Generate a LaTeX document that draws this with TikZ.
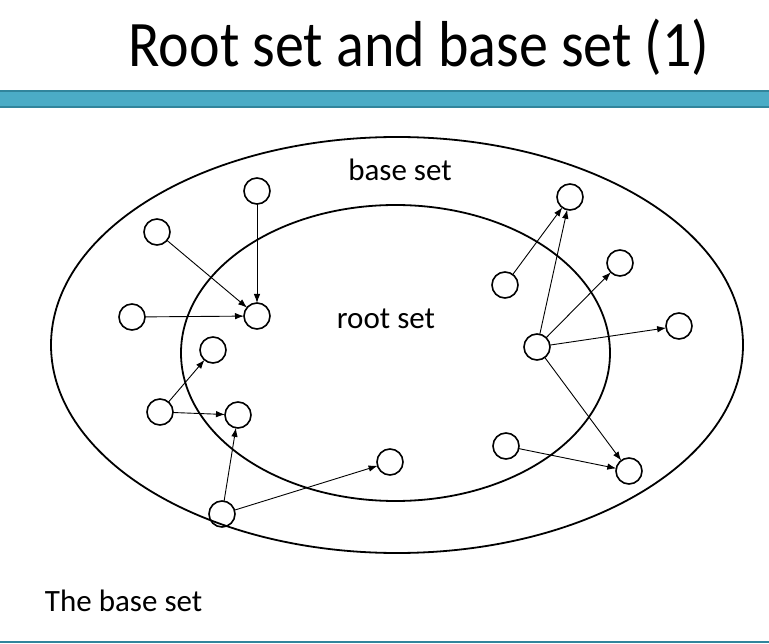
\documentclass[tikz,border=0pt]{standalone}
\usepackage{fontspec}
\setmainfont{Carlito}
\usetikzlibrary{arrows.meta}

\definecolor{barblue}{HTML}{4BACC6}
\definecolor{bardark}{HTML}{31859C}

\tikzset{
	    every node/.style={
					inner sep=0pt,
					outer sep=0pt
	    },
	    page/.style={
					circle,
					draw=black,
					line width=1.6pt,
					minimum size=26pt
	    },
	    link/.style={
					-{Latex[length=9pt,width=6.5pt]},
					line width=0.9pt
	    },
	    setline/.style={
					line width=1.8pt
	    },
	    label text/.style={
					font=\fontsize{31}{36}\selectfont
	    }
		}

\begin{document}
\begin{tikzpicture}[x=1pt, y=-1pt]
			\useasboundingbox (0,0) rectangle (769,644);

			% title and bars
			\node[font=\fontsize{58}{64}\selectfont, anchor=base] (title) at (419,67) {\scalebox{1}[1.12]{Root set and base set (1)}};
			\fill[barblue] (0,91) rectangle (769,107);
			\draw[bardark, line width=1.6pt] (0,91) -- (769,91);
			\draw[bardark, line width=1.6pt] (0,107) -- (769,107);
			\draw[bardark, line width=2pt] (0,642) -- (769,642);

			% the two sets
			\draw[setline] (397,345) ellipse [x radius=346, y radius=208];
			\draw[setline] (395.5,353) ellipse [x radius=214.5, y radius=148];

			\node[label text, anchor=base] (baselabel) at (400,181) {base set};
			\node[label text, anchor=base] (rootlabel) at (386,329) {root set};
			\node[label text, anchor=base west] (caption) at (45,611) {The base set};

			% pages on the left
			\node[page] (a) at (257,191) {};
			\node[page] (b) at (157,232) {};
			\node[page] (c) at (132,317) {};
			\node[page] (d) at (257,316) {};
			\node[page] (e) at (213,350) {};
			\node[page] (f) at (160,412) {};
			\node[page] (g) at (238,415) {};
			\node[page] (h) at (222,514) {};
			\node[page] (i) at (390,462) {};

			% pages on the right
			\node[page] (j) at (570,197) {};
			\node[page] (k) at (505,285) {};
			\node[page] (l) at (620,263) {};
			\node[page] (m) at (679,326) {};
			\node[page] (n) at (537,347) {};
			\node[page] (o) at (506,446) {};
			\node[page] (p) at (629,471) {};

			% links
			\draw[link] (a) -- (d);
			\draw[link] (b) -- (d);
			\draw[link] (c) -- (d);
			\draw[link] (f) -- (e);
			\draw[link] (f) -- (g);
			\draw[link] (h) -- (g);
			\draw[link] (h) -- (i);

			\draw[link] (k) -- (j);
			\draw[link] (n) -- (j);
			\draw[link] (n) -- (l);
			\draw[link] (n) -- (m);
			\draw[link] (n) -- (p);
			\draw[link] (o) -- (p);
		\end{tikzpicture}
\end{document}
